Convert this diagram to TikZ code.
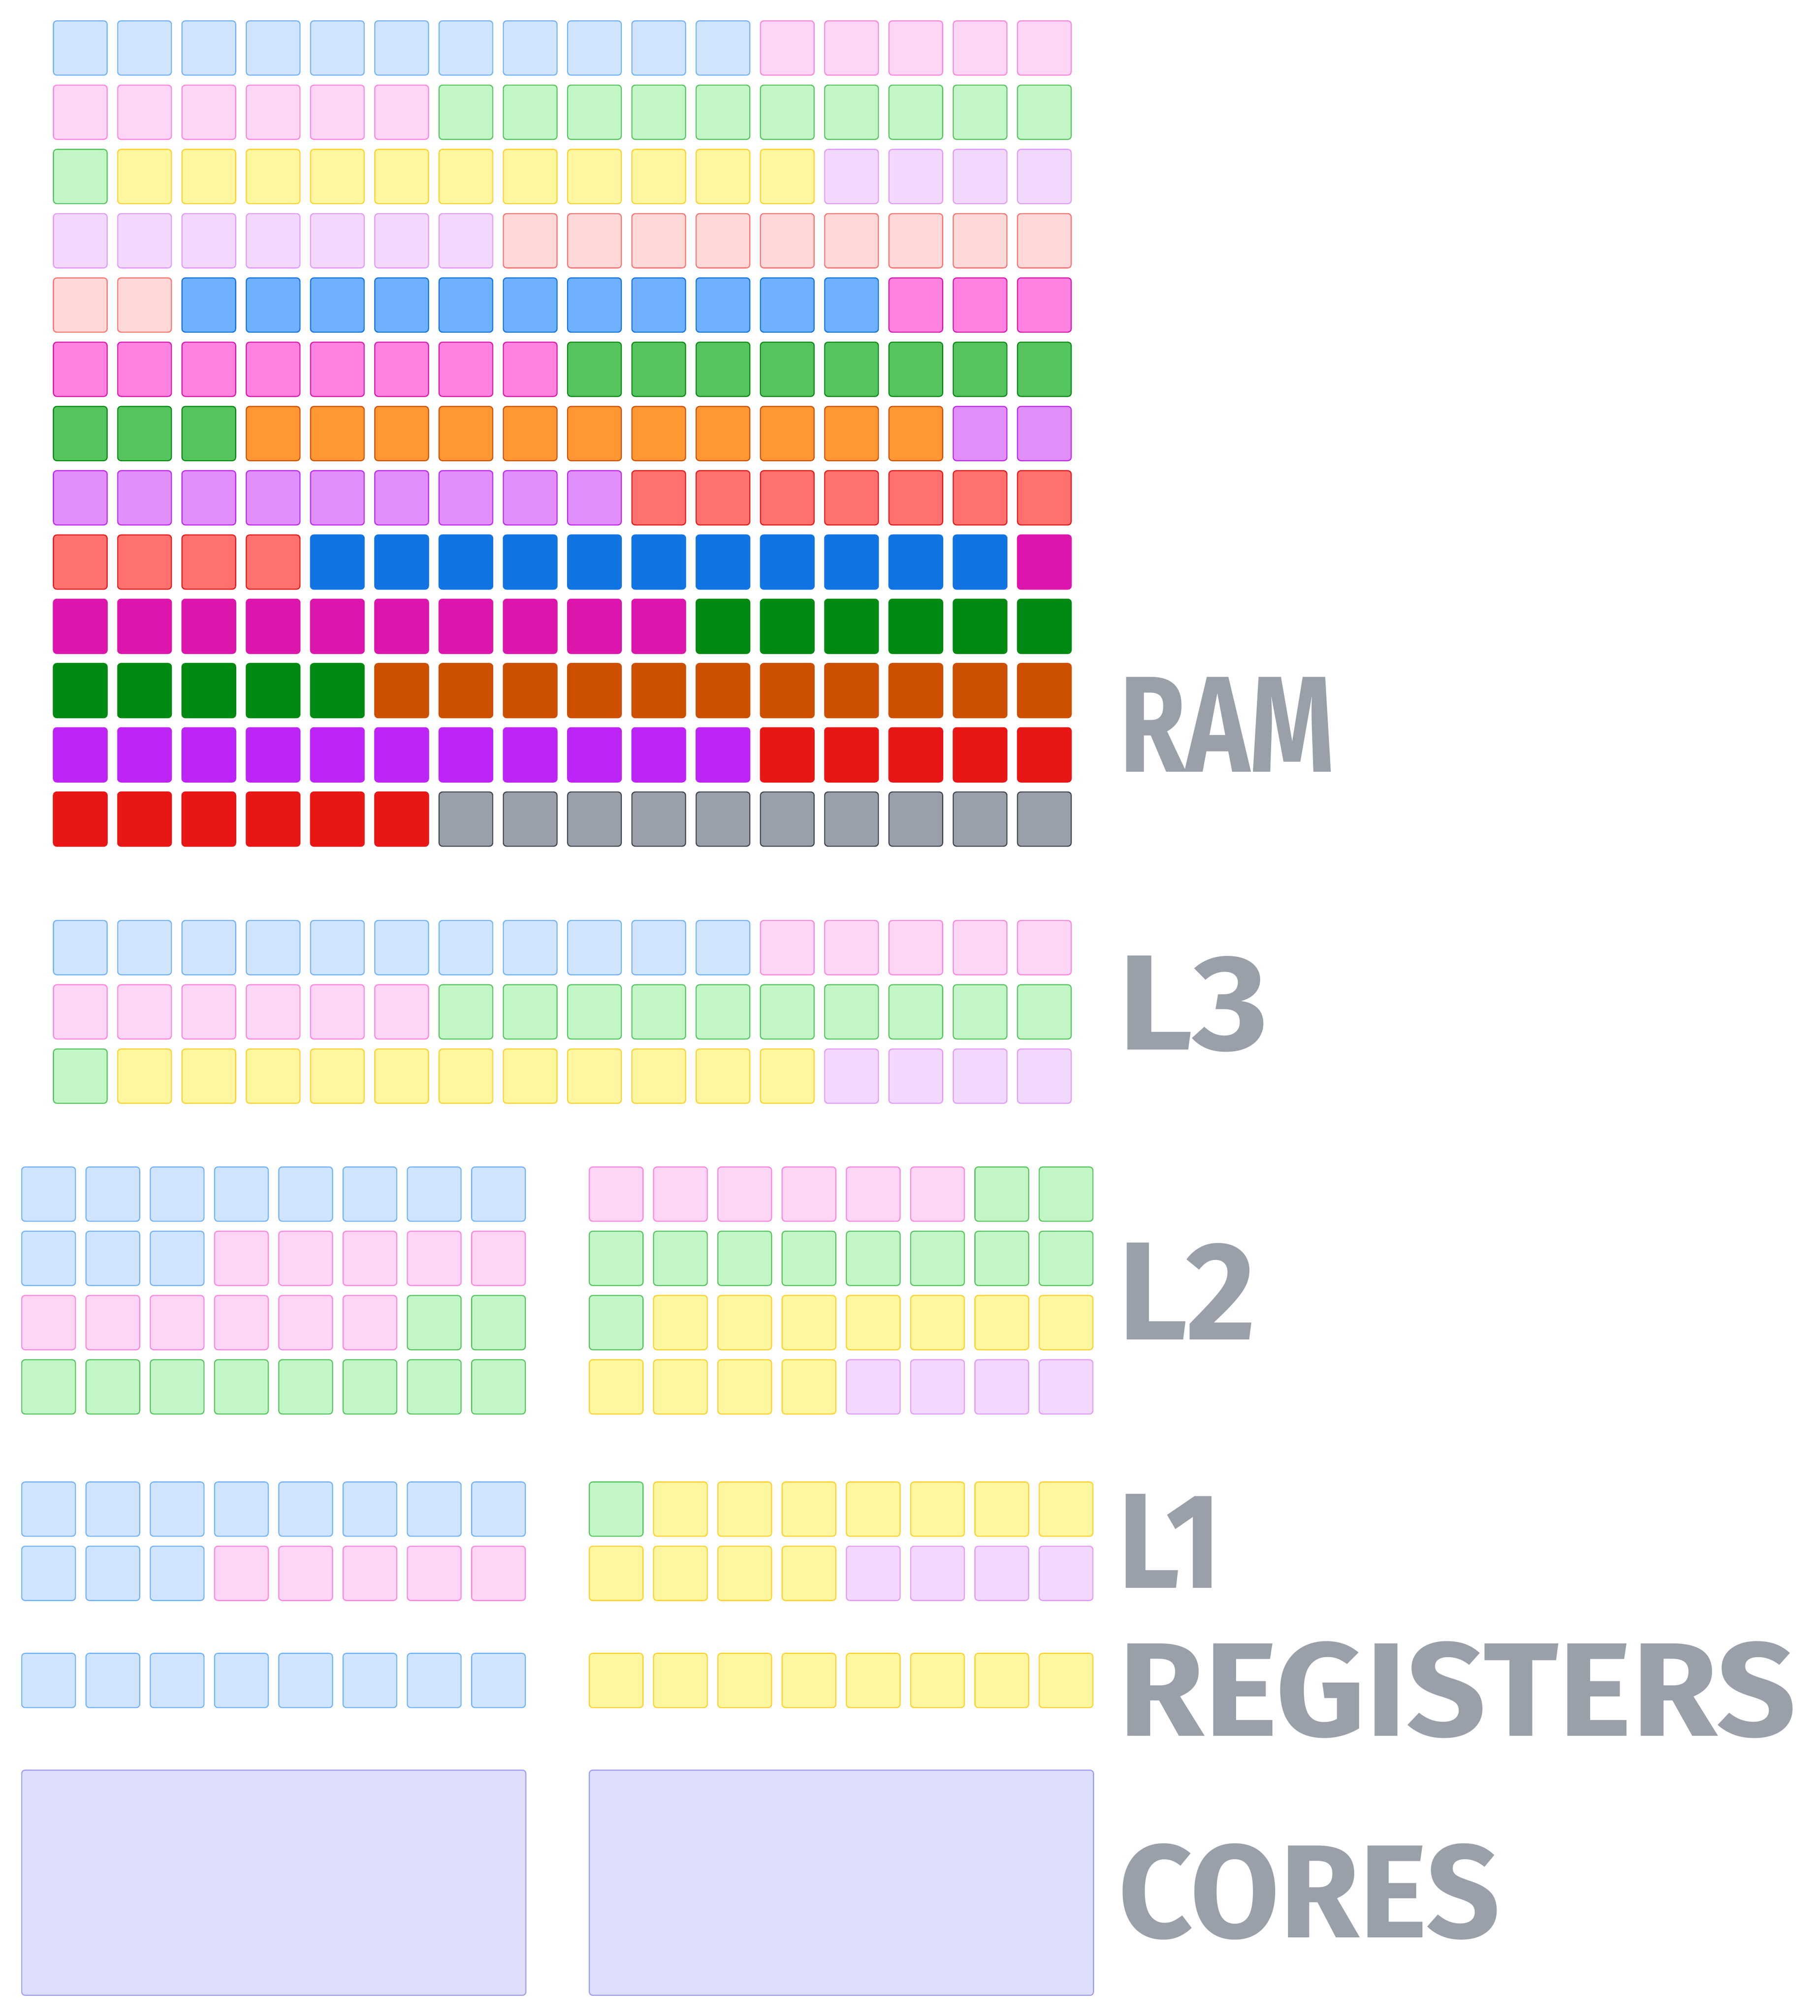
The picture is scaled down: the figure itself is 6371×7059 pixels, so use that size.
\documentclass[tikz,border=0pt]{standalone}
\usepackage{fontspec}
\usepackage{graphicx}
\newfontfamily\handfont{Fira Sans}
\definecolor{f0}{HTML}{D0E5FD}\definecolor{s0}{HTML}{70B2FF}
\definecolor{f1}{HTML}{FDD5F5}\definecolor{s1}{HTML}{FF85DD}
\definecolor{f2}{HTML}{C3F6C7}\definecolor{s2}{HTML}{55C45F}
\definecolor{f3}{HTML}{FFF6A0}\definecolor{s3}{HTML}{FFD12B}
\definecolor{f4}{HTML}{F2D8FD}\definecolor{s4}{HTML}{E19AFB}
\definecolor{f5}{HTML}{FFD8D8}\definecolor{s5}{HTML}{FF716E}
\definecolor{f6}{HTML}{6FB1FF}\definecolor{s6}{HTML}{1074E3}
\definecolor{f7}{HTML}{FF83DE}\definecolor{s7}{HTML}{DC15AC}
\definecolor{f8}{HTML}{55C45F}\definecolor{s8}{HTML}{02890F}
\definecolor{f9}{HTML}{FF9733}\definecolor{s9}{HTML}{D04F00}
\definecolor{f10}{HTML}{E08FFB}\definecolor{s10}{HTML}{BE26F6}
\definecolor{f11}{HTML}{FF716E}\definecolor{s11}{HTML}{E8171A}
\definecolor{f12}{HTML}{1174E3}\definecolor{s12}{HTML}{1174E3}
\definecolor{f13}{HTML}{DC16AC}\definecolor{s13}{HTML}{DC16AC}
\definecolor{f14}{HTML}{008A12}\definecolor{s14}{HTML}{008A12}
\definecolor{f15}{HTML}{CD4F00}\definecolor{s15}{HTML}{CD4F00}
\definecolor{f16}{HTML}{BD24F6}\definecolor{s16}{HTML}{BD24F6}
\definecolor{f17}{HTML}{E91616}\definecolor{s17}{HTML}{E91616}
\definecolor{f18}{HTML}{99A0AA}\definecolor{s18}{HTML}{3F4550}
\definecolor{corefill}{HTML}{DEDEFD}\definecolor{corestroke}{HTML}{9C9CFC}
\definecolor{labelgray}{HTML}{99A0AA}
\begin{document}
\begin{tikzpicture}[x=0.01cm,y=-0.01cm,
  cell/.style={line width=1.05pt, rounded corners=0.12cm, minimum width=1.88cm,
    minimum height=1.9cm, inner sep=0pt, outer sep=0pt, anchor=north west},
  corebox/.style={draw=corestroke, fill=corefill, line width=1.05pt, rounded corners=0.12cm,
    minimum width=17.64cm, minimum height=7.88cm, inner sep=0pt, outer sep=0pt, anchor=north west},
  lbl/.style={text=labelgray, inner sep=0pt, outer sep=0pt, anchor=north west, font=\handfont\bfseries}]
\useasboundingbox[fill=white] (0,0) rectangle (6371,7059);
% RAM
\foreach \r in {0,...,12}{\foreach \c in {0,...,15}{
  \pgfmathtruncatemacro{\k}{div(\r*16+\c,11)}
  \node[cell, fill=f\k, draw=s\k] (ram-\r-\c) at ({187+225*\c},{73+225*\r}) {};
}}
% L3
\foreach \r in {0,1,2}{\foreach \c in {0,...,15}{
  \pgfmathtruncatemacro{\k}{div(\r*16+\c,11)}
  \node[cell, fill=f\k, draw=s\k] (lthree-\r-\c) at ({187+225*\c},{3223+225*\r}) {};
}}
% L2
\foreach \r in {0,...,3}{\foreach \c in {0,...,7}{
  \pgfmathtruncatemacro{\k}{div(\r*8+\c,11)}
  \pgfmathtruncatemacro{\m}{div(\r*8+\c+16,11)}
  \node[cell, fill=f\k, draw=s\k] (ltwoa-\r-\c) at ({76+225*\c},{4086+225*\r}) {};
  \node[cell, fill=f\m, draw=s\m] (ltwob-\r-\c) at ({2063+225*\c},{4086+225*\r}) {};
}}
% L1
\foreach \r in {0,1}{\foreach \c in {0,...,7}{
  \pgfmathtruncatemacro{\k}{div(\r*8+\c,11)}
  \pgfmathtruncatemacro{\m}{div(\r*8+\c+32,11)}
  \node[cell, fill=f\k, draw=s\k] (lonea-\r-\c) at ({76+225*\c},{5189+225*\r}) {};
  \node[cell, fill=f\m, draw=s\m] (loneb-\r-\c) at ({2063+225*\c},{5189+225*\r}) {};
}}
% Registers
\foreach \c in {0,...,7}{
  \node[cell, fill=f0, draw=s0] (rega-\c) at ({76+225*\c},5789) {};
  \node[cell, fill=f3, draw=s3] (regb-\c) at ({2063+225*\c},5789) {};
}
% Cores
\node[corebox] (corea) at (76,6198) {};
\node[corebox] (coreb) at (2063,6198) {};
% Labels
\node[lbl] (tram) at (3918,2370) {\resizebox{7.54cm}{3.32cm}{RAM}};
\node[lbl] (tlthree) at (3914,3346) {\resizebox{5.27cm}{3.29cm}{L3}};
\node[lbl] (tltwo) at (3914,4351) {\resizebox{4.82cm}{3.39cm}{L2}};
\node[lbl] (tlone) at (3914,5231) {\resizebox{3.61cm}{3.29cm}{L1}};
\node[lbl] (tregs) at (3916,5747) {\resizebox{23.69cm}{3.31cm}{REGISTERS}};
\node[lbl] (tcores) at (3915,6455) {\resizebox{13.35cm}{3.29cm}{CORES}};
\end{tikzpicture}
\end{document}
